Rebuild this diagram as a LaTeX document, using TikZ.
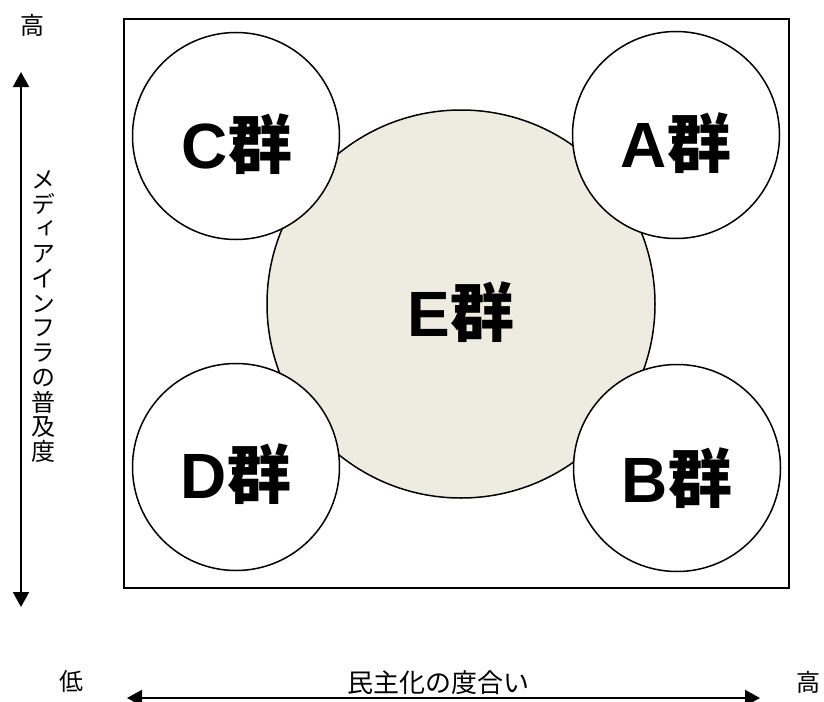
\documentclass[tikz,border=0pt]{standalone}
\usepackage{fontspec}
\setmainfont{Liberation Sans}
\newfontfamily\jpfont{Noto Sans CJK JP}
\newfontfamily\jpvfont[RawFeature=+vert]{Noto Sans CJK JP}
\newfontfamily\latbfont{Liberation Sans}
\usetikzlibrary{arrows.meta}
\definecolor{ebeige}{RGB}{238,236,224}
\newcommand{\grplbl}[1]{{\latbfont\bfseries #1}{\jpfont\bfseries 群}}
\tikzset{
  grp/.style={circle, draw=black, line width=1.5pt, fill=white, minimum size=207pt, inner sep=0pt},
  grplabel/.style={font=\fontsize{64}{64}\selectfont, inner sep=0pt, anchor=base},
  axisline/.style={line width=2pt, {Triangle[length=15pt,width=16pt]}-{Triangle[length=15pt,width=16pt]}},
  axtext/.style={font=\jpfont\fontsize{24}{24}\selectfont, inner sep=0pt},
  frameline/.style={draw=black, line width=1.5pt, rectangle, inner sep=0pt}
}
\begin{document}
\begin{tikzpicture}[x=1pt,y=-1pt]
\useasboundingbox (0,0) rectangle (824,701);
% frame
\node[frameline, minimum width=665pt, minimum height=569pt] (frame) at (456.5,303.5) {};
% central group
\node[grp, fill=ebeige, minimum size=388pt] (E) at (461,304) {};
% corner groups
\node[grp] (C) at (236,136) {};
\node[grp] (A) at (676,135) {};
\node[grp] (D) at (236,467) {};
\node[grp] (B) at (677,468) {};
% labels
\node[grplabel] (Elab) at (461,336) {\grplbl{E}};
\node[grplabel] (Clab) at (237,168) {\grplbl{C}};
\node[grplabel] (Alab) at (676,167) {\grplbl{A}};
\node[grplabel] (Dlab) at (236,498) {\grplbl{D}};
\node[grplabel] (Blab) at (677,502) {\grplbl{B}};
% vertical axis
\coordinate (vtop) at (21,72);
\coordinate (vbot) at (21,607);
\draw[axisline] (vtop) -- (vbot);
\node[axtext] (vhigh) at (32,25) {高};
\node[inner sep=0pt, align=center, font=\jpvfont\fontsize{24}{24.75}\selectfont] (vlab) at (43,316.5)
  {メ\\デ\\ィ\\ア\\イ\\ン\\フ\\ラ\\の\\普\\及\\度};
% horizontal axis
\coordinate (hleft) at (127,698);
\coordinate (hright) at (760,698);
\draw[axisline] (hleft) -- (hright);
\node[axtext] (hlow) at (71,681) {低};
\node[axtext, font=\jpfont\fontsize{26}{26}\selectfont] (hlab) at (438,683) {民主化の度合い};
\node[axtext] (hhigh) at (808,682) {高};
\end{tikzpicture}
\end{document}
